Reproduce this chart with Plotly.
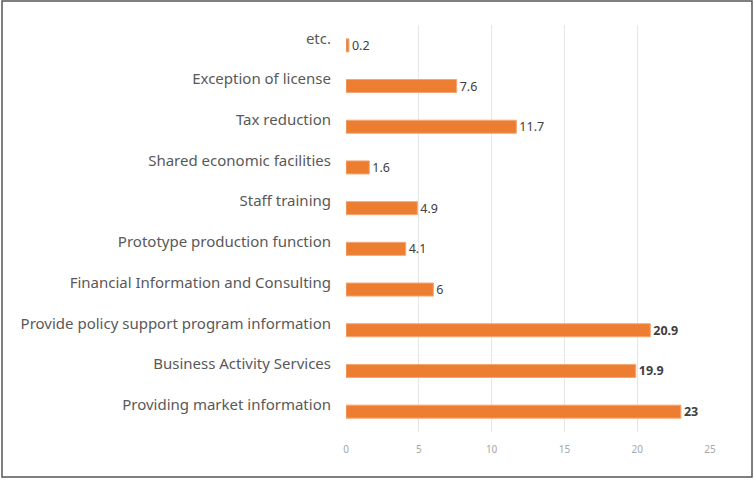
import plotly.graph_objects as go

categories = [
    "Providing market information",
    "Business Activity Services",
    "Provide policy support program information",
    "Financial Information and Consulting",
    "Prototype production function",
    "Staff training",
    "Shared economic facilities",
    "Tax reduction",
    "Exception of license",
    "etc.",
]
values = [23, 19.9, 20.9, 6, 4.1, 4.9, 1.6, 11.7, 7.6, 0.2]
bold_threshold = 15
x_ticks = [0, 5, 10, 15, 20, 25]

texts = [f"<b>{v:g}</b>" if v > bold_threshold else f"{v:g}" for v in values]

fig = go.Figure(go.Bar(
    y=categories, x=values, orientation="h",
    marker=dict(color="#ED7D31", line=dict(color="#F4A774", width=1)),
    text=texts, textposition="outside", cliponaxis=False, constraintext="none",
    textfont=dict(family="Noto Sans", size=12.5, color="#404040"),
    width=0.32,
))

L, R, T, B = 346, 44, 25, 48
W, H = 754, 480
pw, ph = W - L - R, H - T - B

fig.update_layout(
    width=W, height=H,
    margin=dict(l=L, r=R, t=T, b=B),
    paper_bgcolor="white", plot_bgcolor="white",
    showlegend=False,
    xaxis=dict(range=[0, 25], tickvals=x_ticks, showgrid=True, gridcolor="#E6E6E6",
               gridwidth=1, zeroline=False, showline=False,
               tickfont=dict(family="Noto Sans", size=10, color="#A6A6A6"), ticks="",
               ticklabelstandoff=10),
    yaxis=dict(categoryorder="array", categoryarray=categories, showgrid=False,
               zeroline=False, showline=False, ticks="",
               tickfont=dict(family="Noto Sans", size=15, color="#595959"),
               ticklabelstandoff=14, ticklabelshift=-7),
    shapes=[dict(type="rect", xref="paper", yref="paper",
                 x0=(2 - L) / pw, x1=(752 - L) / pw,
                 y0=(H - B - 477) / ph, y1=(H - B - 1) / ph,
                 line=dict(color="#555555", width=1.5), fillcolor="rgba(0,0,0,0)")],
)

fig.write_html("out.html")
